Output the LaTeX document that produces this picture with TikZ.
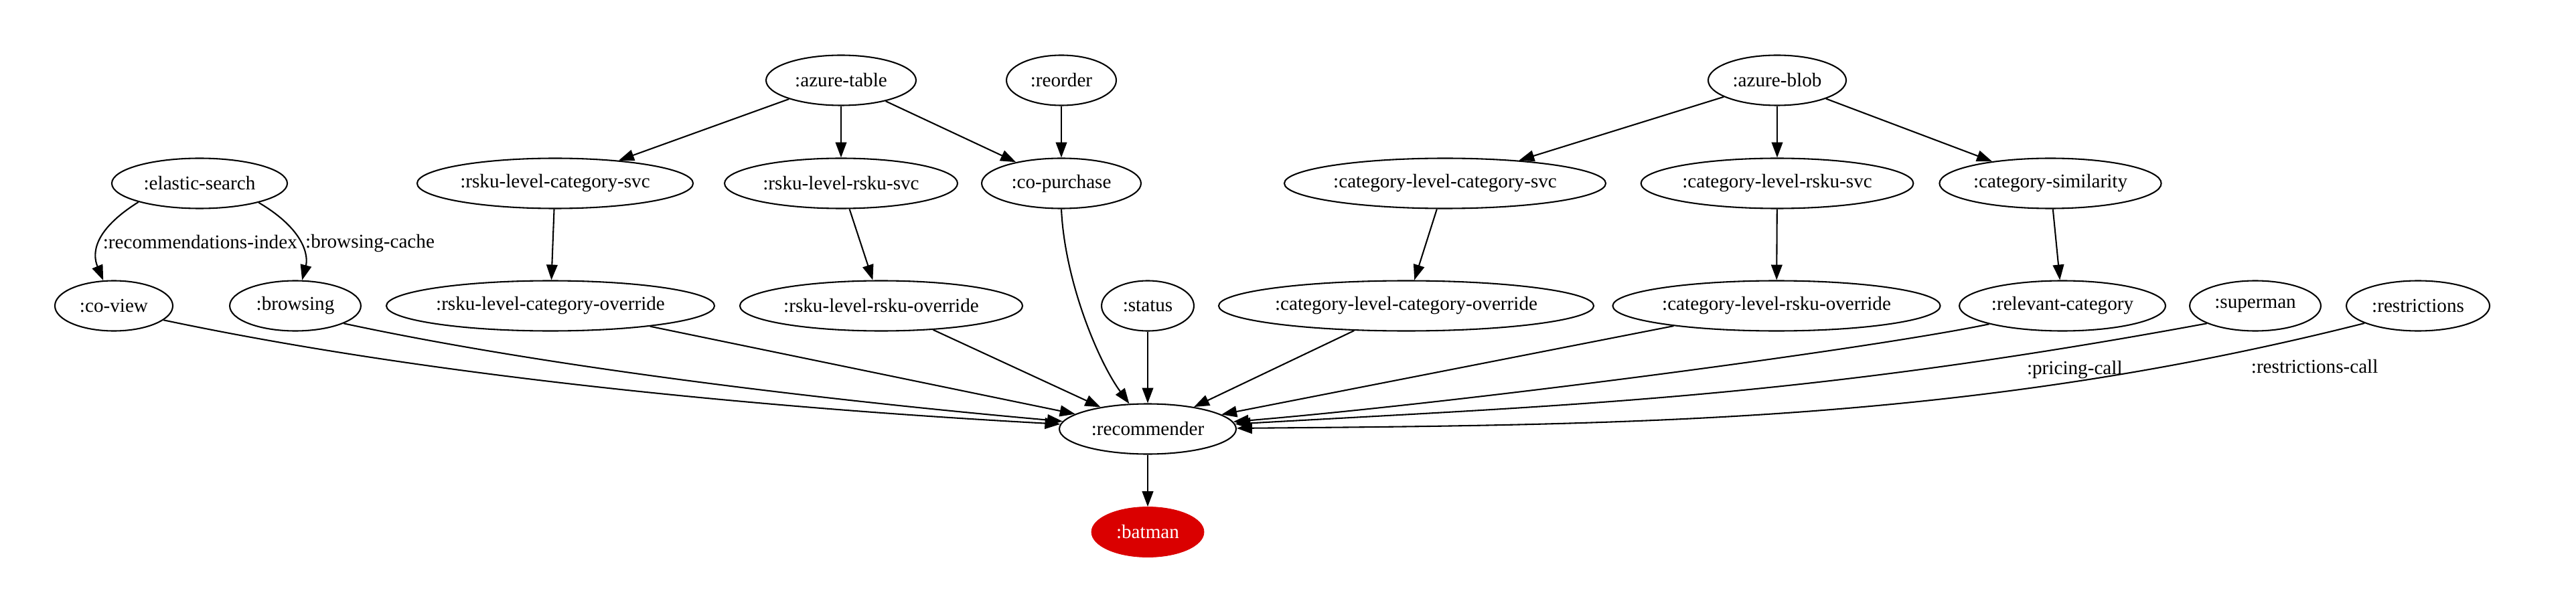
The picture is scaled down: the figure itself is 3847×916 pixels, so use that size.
\documentclass[tikz,border=0pt]{standalone}
\usepackage{fontspec}
\setmainfont{Liberation Serif}
\usepackage{tikz}
\usetikzlibrary{shapes.geometric, arrows.meta}
\definecolor{batred}{RGB}{218,0,0}

\tikzset{
  gnode/.style={ellipse, draw, line width=1pt, minimum height=36pt, minimum width=#1, inner sep=1pt, font=\fontsize{14pt}{16pt}\selectfont},
  hero/.style={ellipse, fill=batred, draw=batred, text=white, minimum height=36pt, minimum width=#1, inner sep=1pt, font=\fontsize{14pt}{16pt}\selectfont},
  link/.style={line width=1pt, -{Triangle[length=11pt, width=8pt]}},
  elabel/.style={inner sep=1pt, font=\fontsize{14pt}{16pt}\selectfont},
}

\begin{document}
\begin{tikzpicture}[x=0.48pt, y=-0.48pt]
\useasboundingbox (0,0) rectangle (3847,916);
% sources
\node[gnode=107.5pt] (azt) at (1256,120) {:azure-table};
\node[gnode=78.7pt] (reo) at (1585,120) {:reorder};
\node[gnode=98.9pt] (azb) at (2654,120) {:azure-blob};
% services
\node[gnode=125.8pt] (es) at (298,274) {:elastic-search};
\node[gnode=197.8pt] (rcs) at (829,274) {:rsku-level-category-svc};
\node[gnode=167pt] (rrs) at (1256,274) {:rsku-level-rsku-svc};
\node[gnode=114.2pt] (cop) at (1585,274) {:co-purchase};
\node[gnode=230.4pt] (ccs) at (2158,274) {:category-level-category-svc};
\node[gnode=191pt] (crs) at (2654,274) {:category-level-rsku-svc};
\node[gnode=158.4pt] (csim) at (3062,274) {:category-similarity};
% inputs of the recommender
\node[gnode=84.5pt] (cv) at (170,457) {:co-view};
\node[gnode=94pt] (br) at (441,457) {:browsing};
\node[gnode=235.2pt] (rco) at (822,457) {:rsku-level-category-override};
\node[gnode=202.6pt] (rro) at (1316,457) {:rsku-level-rsku-override};
\node[gnode=66.2pt] (st) at (1714,457) {:status};
\node[gnode=266.9pt] (cco) at (2100,457) {:category-level-category-override};
\node[gnode=226.6pt] (cro) at (2653,457) {:category-level-rsku-override};
\node[gnode=147.8pt] (rel) at (3080,457) {:relevant-category};
\node[gnode=94pt] (sup) at (3368,457) {:superman};
\node[gnode=102.7pt] (res) at (3611,457) {:restrictions};
% sink
\node[gnode=126.7pt] (rec) at (1714,641) {:recommender};
\node[hero=80.6pt] (bat) at (1714,795) {:batman};

\foreach \a/\b in {azt/rcs, azt/rrs, azt/cop, reo/cop, rcs/rco, rrs/rro,
                   azb/ccs, azb/crs, azb/csim, ccs/cco, crs/cro, csim/rel,
                   rco/rec, rro/rec, st/rec, cco/rec, cro/rec, rec/bat}
  \draw[link] (\a) -- (\b);

\draw[link] (es.197) .. controls (138,345) and (138,380) .. (cv)
  node[elabel, pos=0.5, right=1pt] {:recommendations-index};
\draw[link] (es.-18) .. controls (458,345) and (460,385) .. (br)
  node[elabel, pos=0.5, right=2pt] {:browsing-cache};
\draw[link] (cv.-16) .. controls (650,564) and (1150,610) .. (rec);
\draw[link] (br.-20) .. controls (800,545) and (1200,595) .. (rec);
\draw[link] (cop.south) .. controls (1590,420) and (1640,540) .. (rec);
\draw[link] (rel.194) .. controls (2800,520) and (2200,600) .. (rec);
\draw[link] (sup.200) .. controls (2696,594) and (2351,605) .. (rec)
  node[elabel, pos=0.115, below=9pt] {:pricing-call};
\draw[link] (res.198) .. controls (2950,630) and (2450,635) .. (rec)
  node[elabel, pos=0.043, below=16pt] {:restrictions-call};
\end{tikzpicture}
\end{document}
